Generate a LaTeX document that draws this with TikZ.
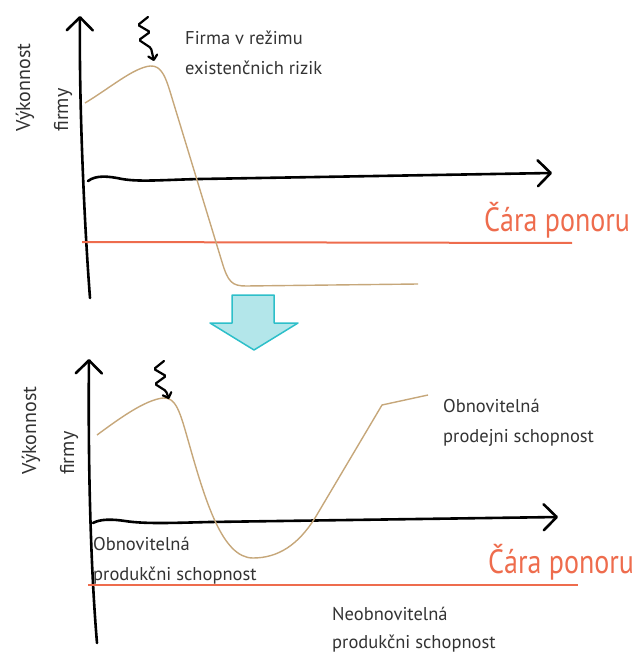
\documentclass[tikz,border=0pt]{standalone}
\usepackage{fontspec}
\setmainfont{PT Sans}
\usetikzlibrary{arrows.meta}
\definecolor{ink}{HTML}{333333}
\definecolor{sand}{HTML}{C6A77A}
\definecolor{coral}{HTML}{EE6C4D}
\definecolor{aqua}{HTML}{B3E6EA}
\definecolor{aquaedge}{HTML}{2DBFC9}
\tikzset{axis/.style={line width=2.6pt, line cap=round, -{Straight Barb[length=13pt,width=26pt,round]}}}
\tikzset{sink/.style={coral, line width=2pt}}
\tikzset{perf/.style={sand, line width=1.4pt, line join=round}}
\tikzset{hit/.style={black, line width=2.2pt, line cap=round, rounded corners=1.5pt, -{Straight Barb[length=4.5pt,width=9pt,round]}}}
\tikzset{lbl/.style={anchor=base west, inner sep=0pt, text=ink, font=\fontsize{18.5}{18.5}\selectfont}}
\tikzset{ylbl/.style={lbl, rotate=90, font=\fontsize{20}{20}\selectfont}}
\tikzset{sinklbl/.style={lbl, text=coral, font=\fontsize{28}{28}\selectfont}}

\begin{document}
\begin{tikzpicture}[x=1pt, y=-1pt]
\useasboundingbox (0,0) rectangle (642,652);

% upper chart
\draw[axis] (90,298) .. controls (84,220) and (79,100) .. (80,16);
\draw[axis] (88,181) .. controls (96,175) and (108,176) .. (122,179) .. controls (140,182) and (160,180) .. (200,179) -- (552,173);
\draw[sink] (82,242) -- (572,243);
\draw[perf] (85,103) .. controls (110,88) and (133,68) .. (150,66) .. controls (162,65) and (166,78) .. (172,98) -- (222,262) .. controls (228,282) and (232,286) .. (246,286) -- (418,284);
\draw[hit] (148,17) -- (138,25) -- (150,32) -- (139,40) -- (151,48) -- (154,61);

\node[ylbl] (vyk) at (30,132) {Výkonnost};
\node[ylbl] (fir) at (68,132) {firmy};
\node[lbl] (rizA) at (185,45) {Firma v režimu};
\node[lbl] (rizB) at (185,75) {existenčnich rizik};
\node[sinklbl] (caraA) at (484,231) {\scalebox{1}[1.2]{Čára ponoru}};

% arrow between the charts
\draw[fill=aqua, draw=aquaedge, line width=1.5pt, line join=round] (232,295) -- (274,295) -- (274,323) -- (298,323) -- (254,350) -- (210,323) -- (232,323) -- cycle;

% lower chart
\draw[axis] (97,643) .. controls (90,560) and (88,450) .. (89,359);
\draw[axis] (93,523) .. controls (100,519) and (112,519) .. (125,521) .. controls (145,524) and (170,523) .. (210,522) -- (558,517);
\draw[sink] (88,585) -- (578,585);
\draw[perf] (97,435) .. controls (120,418) and (145,400) .. (163,398) .. controls (176,397) and (180,412) .. (188,440) .. controls (205,500) and (222,558) .. (253,558) .. controls (278,558) and (298,545) .. (315,518) -- (382,405) -- (428,395);
\draw[hit] (164,361) -- (154,369) -- (166,376) -- (155,384) -- (166,391) -- (169,399);

\node[ylbl] (vyk2) at (36,475) {Výkonnost};
\node[ylbl] (fir2) at (74,475) {firmy};
\node[lbl] (prdA) at (443,412) {Obnovitelná};
\node[lbl] (prdB) at (443,442) {prodejni schopnost};
\node[lbl] (prkA) at (93,550) {Obnovitelná};
\node[lbl] (prkB) at (93,580) {produkčni schopnost};
\node[lbl] (neA) at (332,620) {Neobnovitelná};
\node[lbl] (neB) at (332,648) {produkčni schopnost};
\node[sinklbl] (caraB) at (488,573) {\scalebox{1}[1.2]{Čára ponoru}};
\end{tikzpicture}
\end{document}
